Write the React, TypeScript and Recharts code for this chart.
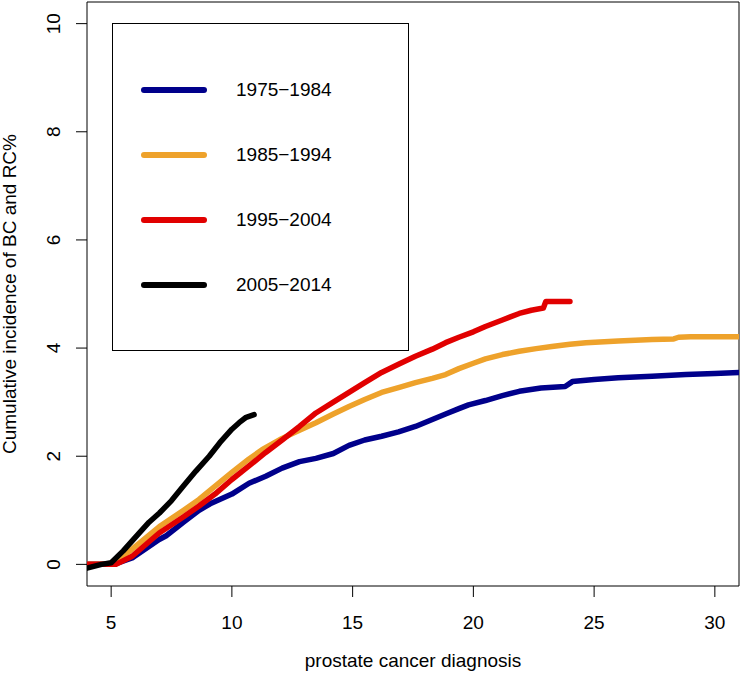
import { LineChart, Line, XAxis, YAxis, ReferenceArea, Label } from "recharts";

// cumulative incidence (%) by years since diagnosis, one array per period
const period1975 = [
  { t: 4, ci: 0 }, { t: 5.1, ci: 0 }, { t: 5.87, ci: 0.12 }, { t: 6.99, ci: 0.46 },
  { t: 7.28, ci: 0.53 }, { t: 8.0, ci: 0.78 }, { t: 8.64, ci: 1.0 }, { t: 9.1, ci: 1.12 },
  { t: 10.0, ci: 1.3 }, { t: 10.71, ci: 1.5 }, { t: 11.4, ci: 1.63 }, { t: 12.08, ci: 1.78 },
  { t: 12.8, ci: 1.9 }, { t: 13.48, ci: 1.96 }, { t: 14.2, ci: 2.05 }, { t: 14.85, ci: 2.2 },
  { t: 15.5, ci: 2.3 }, { t: 16.2, ci: 2.37 }, { t: 16.9, ci: 2.45 }, { t: 17.6, ci: 2.55 },
  { t: 18.3, ci: 2.68 }, { t: 18.85, ci: 2.78 }, { t: 19.4, ci: 2.88 }, { t: 19.8, ci: 2.95 },
  { t: 20.5, ci: 3.03 }, { t: 21.2, ci: 3.12 }, { t: 21.9, ci: 3.2 }, { t: 22.8, ci: 3.26 },
  { t: 23.8, ci: 3.29 }, { t: 24.1, ci: 3.38 }, { t: 25, ci: 3.42 }, { t: 26, ci: 3.45 },
  { t: 27.4, ci: 3.48 }, { t: 28.8, ci: 3.51 }, { t: 30, ci: 3.53 }, { t: 31, ci: 3.55 },
];

const period1985 = [
  { t: 4, ci: 0 }, { t: 5.0, ci: 0 }, { t: 5.87, ci: 0.28 }, { t: 7.0, ci: 0.7 },
  { t: 8.0, ci: 1.0 }, { t: 8.64, ci: 1.2 }, { t: 10.0, ci: 1.7 }, { t: 10.71, ci: 1.95 },
  { t: 11.25, ci: 2.12 }, { t: 12.08, ci: 2.33 }, { t: 12.8, ci: 2.48 }, { t: 13.48, ci: 2.62 },
  { t: 14.2, ci: 2.78 }, { t: 14.85, ci: 2.92 }, { t: 15.5, ci: 3.05 }, { t: 16.2, ci: 3.18 },
  { t: 16.9, ci: 3.27 }, { t: 17.6, ci: 3.36 }, { t: 18.3, ci: 3.44 }, { t: 18.85, ci: 3.51 },
  { t: 19.4, ci: 3.62 }, { t: 20.0, ci: 3.72 }, { t: 20.5, ci: 3.8 }, { t: 21.2, ci: 3.88 },
  { t: 21.9, ci: 3.94 }, { t: 22.6, ci: 3.99 }, { t: 23.25, ci: 4.03 }, { t: 24.0, ci: 4.07 },
  { t: 24.66, ci: 4.1 }, { t: 26, ci: 4.13 }, { t: 27.4, ci: 4.16 }, { t: 28.3, ci: 4.17 },
  { t: 28.5, ci: 4.2 }, { t: 29, ci: 4.21 }, { t: 31, ci: 4.21 },
];

const period1995 = [
  { t: 4, ci: 0 }, { t: 5.2, ci: 0 }, { t: 5.87, ci: 0.15 }, { t: 6.99, ci: 0.58 },
  { t: 8.0, ci: 0.88 }, { t: 8.64, ci: 1.08 }, { t: 9.3, ci: 1.3 }, { t: 10.0, ci: 1.57 },
  { t: 10.71, ci: 1.82 }, { t: 11.4, ci: 2.07 }, { t: 12.08, ci: 2.3 }, { t: 12.8, ci: 2.55 },
  { t: 13.48, ci: 2.8 }, { t: 14.2, ci: 3.0 }, { t: 14.85, ci: 3.18 }, { t: 15.5, ci: 3.36 },
  { t: 16.2, ci: 3.55 }, { t: 16.9, ci: 3.7 }, { t: 17.6, ci: 3.85 }, { t: 18.3, ci: 3.98 },
  { t: 18.85, ci: 4.1 }, { t: 19.4, ci: 4.2 }, { t: 20.0, ci: 4.3 }, { t: 20.5, ci: 4.4 },
  { t: 21.2, ci: 4.52 }, { t: 21.9, ci: 4.64 }, { t: 22.4, ci: 4.7 }, { t: 22.9, ci: 4.74 },
  { t: 23.0, ci: 4.86 }, { t: 24.0, ci: 4.86 },
];

const period2005 = [
  { t: 4, ci: -0.07 }, { t: 4.6, ci: 0 }, { t: 5.0, ci: 0.03 }, { t: 5.5, ci: 0.25 },
  { t: 6.0, ci: 0.5 }, { t: 6.57, ci: 0.78 }, { t: 7.0, ci: 0.95 }, { t: 7.5, ci: 1.18 },
  { t: 7.94, ci: 1.42 }, { t: 8.5, ci: 1.72 }, { t: 9.06, ci: 2.0 }, { t: 9.5, ci: 2.25 },
  { t: 10.0, ci: 2.5 }, { t: 10.3, ci: 2.62 }, { t: 10.59, ci: 2.72 }, { t: 10.92, ci: 2.77 },
];

const periodNames = ["1975\u22121984", "1985\u22121994", "1995\u22122004", "2005\u22122014"];
const periodColors = ["#00008B", "#EEA22B", "#E10000", "#000000"];
const periodData = [period1975, period1985, period1995, period2005];

const xTicks = [5, 10, 15, 20, 25, 30];
const yTicks = [0, 2, 4, 6, 8, 10];

const font = "'Liberation Sans', Arial, Helvetica, sans-serif";

const XTick = (props: any) => (
  <text x={props.x} y={props.y} dy={30} textAnchor="middle" fontSize={19} fontFamily={font} fill="#000">
    {props.payload.value}
  </text>
);

const YTick = (props: any) => (
  <text
    x={props.x - 14}
    y={props.y}
    textAnchor="middle"
    fontSize={19}
    fontFamily={font}
    fill="#000"
    transform={`rotate(-90 ${props.x - 14} ${props.y})`}
  >
    {props.payload.value}
  </text>
);

export default function App() {
  return (
    <div style={{ position: "absolute", left: 0, top: 0, width: 742, height: 678, background: "#fff" }}>
      <LineChart width={742} height={678} margin={{ top: 2, right: 3, bottom: 0, left: 0 }}>
        <XAxis
          type="number"
          dataKey="t"
          domain={[4, 31]}
          ticks={xTicks}
          allowDataOverflow
          axisLine={false}
          tickSize={11}
          tickLine={{ stroke: "#000" }}
          tick={<XTick />}
          height={92}
        >
          <Label
            content={({ viewBox }: any) => (
              <text
                x={viewBox.x + viewBox.width / 2}
                y={viewBox.y + 81}
                textAnchor="middle"
                fontSize={19}
                fontFamily={font}
                fill="#000"
              >
                prostate cancer diagnosis
              </text>
            )}
          />
        </XAxis>
        <YAxis
          type="number"
          domain={[-0.4, 10.4]}
          ticks={yTicks}
          allowDataOverflow
          axisLine={false}
          tickSize={11}
          tickLine={{ stroke: "#000" }}
          tick={<YTick />}
          width={87}
        >
          <Label
            content={({ viewBox }: any) => {
              const cx = viewBox.x + 16;
              const cy = viewBox.y + viewBox.height / 2;
              return (
                <text
                  x={cx}
                  y={cy}
                  textAnchor="middle"
                  fontSize={19}
                  fontFamily={font}
                  fill="#000"
                  transform={`rotate(-90 ${cx} ${cy})`}
                >
                  Cumulative incidence of BC and RC%
                </text>
              );
            }}
          />
        </YAxis>
        <ReferenceArea x1={4} x2={31} y1={-0.4} y2={10.4} fill="none" stroke="#000" strokeWidth={1} ifOverflow="visible" />
        {periodData.map((d, i) => (
          <Line
            key={periodNames[i]}
            data={d}
            dataKey="ci"
            type="linear"
            stroke={periodColors[i]}
            strokeWidth={5.5}
            strokeLinecap="round"
            strokeLinejoin="round"
            dot={false}
            activeDot={false}
            isAnimationActive={false}
          />
        ))}
      </LineChart>

      {/* legend box */}
      <div
        style={{
          position: "absolute",
          left: 112,
          top: 23,
          width: 295,
          height: 326,
          border: "1px solid #000",
          fontFamily: font,
          fontSize: 19,
        }}
      >
        {periodNames.map((name, i) => (
          <div key={name} style={{ position: "absolute", left: 0, top: 66 + i * 65 - 12, height: 24, display: "flex", alignItems: "center" }}>
            <div style={{ marginLeft: 28, width: 66, height: 6, borderRadius: 3, background: periodColors[i] }} />
            <span style={{ marginLeft: 29 }}>{name}</span>
          </div>
        ))}
      </div>
    </div>
  );
}
